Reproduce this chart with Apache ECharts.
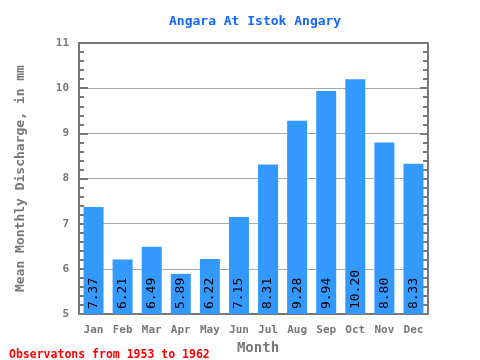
<!DOCTYPE html>
<html><head><meta charset="utf-8">
<script src="https://cdn.jsdelivr.net/npm/echarts@6/dist/echarts.min.js"></script>
<style>html,body{margin:0;padding:0;background:#fff}#c{width:480px;height:360px}</style>
</head><body><div id="c"></div>
<script>
const months = ['Jan','Feb','Mar','Apr','May','Jun','Jul','Aug','Sep','Oct','Nov','Dec'];
const discharge = [7.37, 6.21, 6.49, 5.89, 6.22, 7.15, 8.31, 9.28, 9.94, 10.20, 8.80, 8.33];
const yMin = 5, yMax = 11, yStep = 1;
const titleText = 'Angara At Istok Angary';
const yName = 'Mean Monthly Discharge, in mm';
const xName = 'Month';
const footer = 'Observatons from 1953 to 1962';

const mono = 'DejaVu Sans Mono';
const gray = '#777777';
const chart = echarts.init(document.getElementById('c'));
chart.setOption({
  animation: false,
  backgroundColor: '#ffffff',
  title: [{
    text: titleText, left: 164, top: 10,
    textStyle: {fontFamily: mono, fontWeight: 'bold', fontSize: 13, color: '#1166ff'}
  }, {
    text: footer, left: 4, top: 344,
    textStyle: {fontFamily: mono, fontWeight: 'bold', fontSize: 11.5, color: '#ff0000'}
  }],
  grid: {left: 79, right: 52, top: 43, bottom: 43, containLabel: false},
  xAxis: [{
    type: 'category', data: months, position: 'bottom',
    name: xName, nameLocation: 'middle', nameGap: 24,
    nameTextStyle: {fontFamily: mono, fontWeight: 'bold', fontSize: 14, color: gray, padding: [0,0,0,9]},
    axisLine: {lineStyle: {color: gray, width: 2}},
    axisTick: {inside: true, length: 8, lineStyle: {color: gray, width: 2}},
    axisLabel: {fontFamily: mono, fontWeight: 'bold', fontSize: 11, color: gray, margin: 11},
    splitLine: {show: false}
  }, {
    type: 'category', data: months, position: 'top',
    axisLine: {lineStyle: {color: gray, width: 2}},
    axisTick: {inside: true, length: 8, lineStyle: {color: gray, width: 2}},
    axisLabel: {show: false}, splitLine: {show: false}
  }],
  yAxis: [{
    type: 'value', min: yMin, max: yMax, interval: yStep, position: 'left',
    name: yName, nameLocation: 'middle', nameGap: 52,
    nameTextStyle: {fontFamily: mono, fontWeight: 'bold', fontSize: 13, color: gray},
    axisLine: {show: true, lineStyle: {color: gray, width: 2}},
    axisTick: {show: true, inside: true, length: 9, lineStyle: {color: gray, width: 2}},
    minorTick: {show: true, splitNumber: 5, length: 5, lineStyle: {color: gray, width: 2}},
    axisLabel: {fontFamily: mono, fontWeight: 'bold', fontSize: 11, color: gray, margin: 10, inside: false},
    splitLine: {show: true, lineStyle: {color: '#aaaaaa', width: 1}}
  }, {
    type: 'value', min: yMin, max: yMax, interval: yStep, position: 'right',
    axisLine: {show: true, lineStyle: {color: gray, width: 2}},
    axisTick: {show: true, inside: true, length: 8, lineStyle: {color: gray, width: 2}},
    minorTick: {show: true, splitNumber: 5, length: 5, lineStyle: {color: gray, width: 2}},
    axisLabel: {show: false}, splitLine: {show: false}
  }],
  series: [{
    type: 'bar', data: discharge, xAxisIndex: 0, yAxisIndex: 0,
    barWidth: 20,
    itemStyle: {color: '#3399ff'},
    label: {
      show: true, position: 'insideBottom', rotate: 90, align: 'left', verticalAlign: 'middle',
      distance: 5, fontFamily: mono, fontSize: 13, color: '#000000',
      formatter: p => p.value.toFixed(2)
    }
  }]
});
</script></body></html>
